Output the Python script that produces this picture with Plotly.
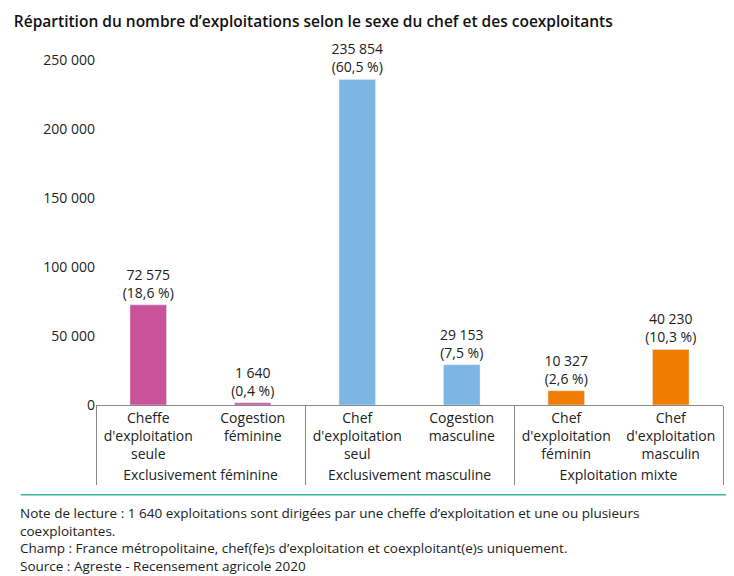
import plotly.graph_objects as go

groups = ["Exclusivement féminine", "Exclusivement féminine",
          "Exclusivement masculine", "Exclusivement masculine",
          "Exploitation mixte", "Exploitation mixte"]
categories = ["Cheffe<br>d'exploitation<br>seule", "Cogestion<br>féminine",
              "Chef<br>d'exploitation<br>seul", "Cogestion<br>masculine",
              "Chef<br>d'exploitation<br>féminin", "Chef<br>d'exploitation<br>masculin"]
values = [72575, 1640, 235854, 29153, 10327, 40230]
shares = ["18,6 %", "0,4 %", "60,5 %", "7,5 %", "2,6 %", "10,3 %"]
colors = ["#C9529A", "#C9529A", "#7EB6E3", "#7EB6E3", "#F07D00", "#F07D00"]

labels = [f"{v:,}".replace(",", " ") + f"<br>({s})" for v, s in zip(values, shares)]

fig = go.Figure(go.Bar(
    x=[groups, categories], y=values,
    marker=dict(color=colors),
    width=0.35,
    text=labels, textposition="outside", cliponaxis=False,
    constraintext="none", textangle=0,
    textfont=dict(size=14, color="#222"),
))

fig.update_layout(
    width=734, height=576,
    paper_bgcolor="white", plot_bgcolor="white",
    font=dict(family="Open Sans, sans-serif", size=14, color="#222"),
    margin=dict(l=88, r=19, t=45, b=179),
    separators=", ",
    showlegend=False,
    title=dict(text="Répartition du nombre d’exploitations selon le sexe du chef et des coexploitants",
               x=0.008, xanchor="left", y=0.985, yanchor="top",
               font=dict(size=15.5, weight=600, color="#111")),
    yaxis=dict(range=[0, 255000], tickvals=[0, 50000, 100000, 150000, 200000, 250000],
               tickformat=",d", showgrid=False, zeroline=False, showline=False,
               ticks="", tickfont=dict(size=14)),
    xaxis=dict(showline=True, linecolor="#888", ticks="", dividercolor="#888",
               dividerwidth=1, tickfont=dict(size=14)),
)

fig.add_shape(type="line", xref="paper", yref="paper", x0=-0.12, x1=1.03,
              y0=-0.255, y1=-0.255, line=dict(color="#3DB39A", width=1.5))

notes = ("Note de lecture : 1 640 exploitations sont dirigées par une cheffe d’exploitation et une ou plusieurs<br>"
         "coexploitantes.<br>"
         "Champ : France métropolitaine, chef(fe)s d’exploitation et coexploitant(e)s uniquement.<br>"
         "Source : Agreste - Recensement agricole 2020")
fig.add_annotation(text=notes, xref="paper", yref="paper", x=-0.125, y=-0.275,
                   xanchor="left", yanchor="top", showarrow=False, align="left",
                   font=dict(size=13.5, color="#222"))

fig.write_html("out.html")
